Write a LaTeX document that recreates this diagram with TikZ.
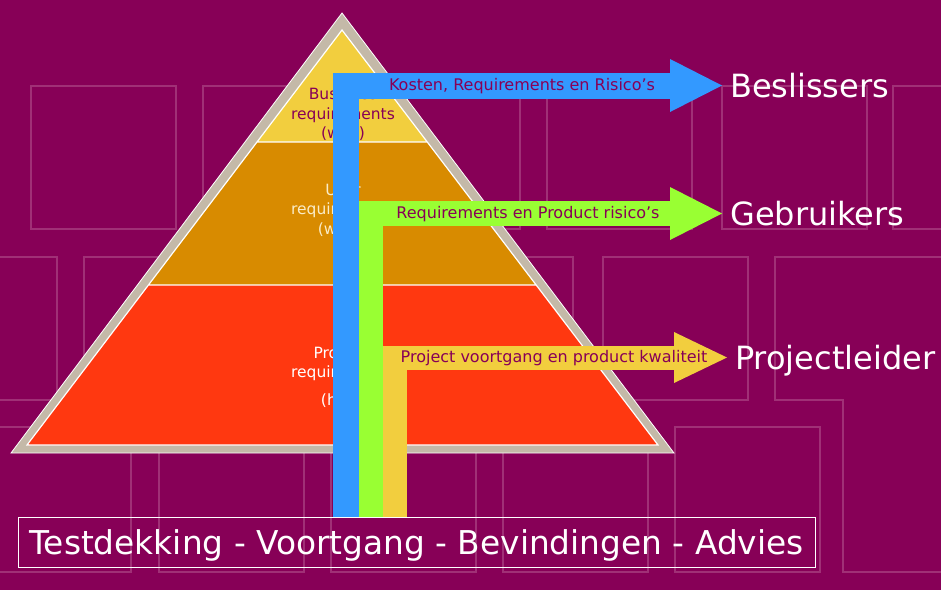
\documentclass[tikz,border=0pt]{standalone}
\usepackage{fontspec}
\setmainfont{DejaVu Sans}
\usetikzlibrary{positioning,calc,arrows.meta}

\definecolor{slidebg}{RGB}{135,0,87}
\definecolor{gridline}{RGB}{160,48,118}
\definecolor{rimgray}{RGB}{196,185,168}
\definecolor{layertop}{RGB}{242,206,62}
\definecolor{layermid}{RGB}{216,139,0}
\definecolor{layerlow}{RGB}{255,56,16}
\definecolor{flowblue}{RGB}{51,153,255}
\definecolor{flowgreen}{RGB}{153,255,51}
\definecolor{flowyellow}{RGB}{242,206,62}
\definecolor{cream}{RGB}{250,236,200}

\begin{document}
\begin{tikzpicture}[x=1pt,y=-1pt,
		square/.style={draw=gridline,line width=1.5pt},
		layertext/.style={align=center,font=\fontsize{15.5}{19.5}\selectfont},
		flowtext/.style={text=slidebg,anchor=base,font=\fontsize{16}{19}\selectfont},
		target/.style={text=white,anchor=west,inner xsep=8pt,text height=24pt,text depth=0pt,font=\fontsize{32}{36}\selectfont},
		flow/.style={line width=#1,line join=miter}]
		% Slide
		\useasboundingbox (0,0) rectangle (941,590);
		\clip (0,0) rectangle (941,590);
		\fill[slidebg] (0,0) rectangle (941,590);

		% Background squares
		\foreach \sx in {31,203,375,547,722,893}
			\draw[square] (\sx,86) rectangle ++(145,143);
		\foreach \sx in {-88,84,256,428,603}
			\draw[square] (\sx,257) rectangle ++(145,143);
		\foreach \sx in {-14,159,331,503,675}
			\draw[square] (\sx,427) rectangle ++(145,145);
		\draw[square] (950,257) -- (775,257) -- (775,400) -- (843,400) -- (843,572) -- (950,572);

		% Pyramid
		\coordinate (top) at (342,13);
		\coordinate (left) at (11,453);
		\coordinate (right) at (674,453);
		\filldraw[fill=rimgray,draw=white,line width=0.8pt] (top) -- (left) -- (right) -- cycle;
		\coordinate (apex) at (342,30);
		\coordinate (bl) at (27,445);
		\coordinate (br) at (658,445);
		\coordinate (a1) at ($(apex)!0.27!(bl)$);
		\coordinate (b1) at ($(apex)!0.27!(br)$);
		\coordinate (a2) at ($(apex)!0.6145!(bl)$);
		\coordinate (b2) at ($(apex)!0.6145!(br)$);
		\fill[layertop] (apex) -- (a1) -- (b1) -- cycle;
		\fill[layermid] (a1) -- (a2) -- (b2) -- (b1) -- cycle;
		\fill[layerlow] (a2) -- (bl) -- (br) -- (b2) -- cycle;
		\draw[white,line width=1.2pt] (apex) -- (bl) -- (br) -- cycle (a1) -- (b1) (a2) -- (b2);

		% Layer labels
		\node[layertext,text=slidebg] (biz) at (343,115) {Business\\requirements\\(why)};
		\node[layertext,text=cream] (usr) at (343,210) {User\\requirements\\(what)};
		\node[layertext,text=white] (prod) at (343,377) {Product\\requirements\\[8pt](how)};

		% Bottom bar
		\node[draw=white,line width=1pt,text=white,minimum width=797pt,minimum height=50pt,inner sep=0pt,text depth=0pt,font=\fontsize{32.8}{36}\selectfont] (advies) at (416.5,542) {Testdekking - Voortgang - Bevindingen - Advies};

		% Audiences
		\node[target] (besl) at (722,85.5) {Beslissers};
		\node[target] (gebr) at (722,213.5) {Gebruikers};
		\node[target] (pl) at (727,357.5) {Projectleider};

		% Reporting flows
		\draw[flow=24pt,flowyellow,-{Triangle[length=53pt,width=51pt,line width=0pt]}] ([xshift=-22pt]advies.north) |- (pl.west);
		\draw[flow=25pt,flowgreen,-{Triangle[length=52pt,width=53pt,line width=0pt]}] ([xshift=-46pt]advies.north) |- (gebr.west);
		\draw[flow=26pt,flowblue,-{Triangle[length=52pt,width=53pt,line width=0pt]}] ([xshift=-71pt]advies.north) |- (besl.west);

		\node[flowtext] (kosten) at (522,90) {Kosten, Requirements en Risico’s};
		\node[flowtext] (risico) at (528,218) {Requirements en Product risico’s};
		\node[flowtext] (kwal) at (554,362) {Project voortgang en product kwaliteit};
	\end{tikzpicture}
\end{document}
